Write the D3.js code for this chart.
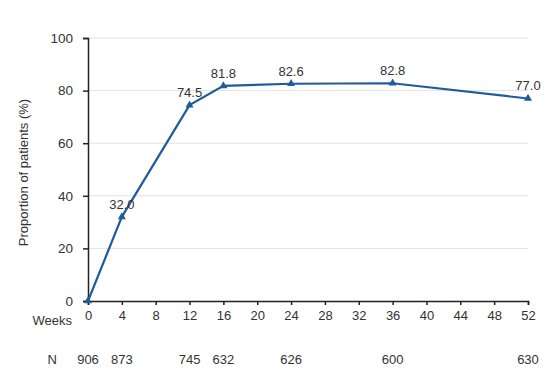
<!DOCTYPE html>
<html>
<head>
<meta charset="utf-8">
<script src="https://cdn.jsdelivr.net/npm/d3@7"></script>
<style>
  body { margin: 0; background: #fff; }
  text { font-family: "Liberation Sans", Arial, sans-serif; fill: #333; }
</style>
</head>
<body>
<div id="chart"></div>
<script>
const weeks = [0, 4, 12, 16, 24, 36, 52];
const proportion = [0, 32.0, 74.5, 81.8, 82.6, 82.8, 77.0];
const nPatients = [906, 873, 745, 632, 626, 600, 630];
const xTicks = d3.range(0, 53, 4);
const yTicks = [0, 20, 40, 60, 80, 100];

const W = 559, H = 384;
const margin = { top: 38, right: 31, bottom: 83, left: 88 };
const width = W - margin.left - margin.right;
const height = H - margin.top - margin.bottom;

const svg = d3.select("#chart").append("svg")
  .attr("width", W).attr("height", H)
  .append("g")
  .attr("transform", `translate(${margin.left},${margin.top})`);

const x = d3.scaleLinear().domain([0, 52]).range([0, width]);
const y = d3.scaleLinear().domain([0, 100]).range([height, 0]);

// gridlines
svg.append("g")
  .selectAll("line")
  .data(yTicks.filter(d => d > 0))
  .enter().append("line")
  .attr("x1", 0).attr("x2", width)
  .attr("y1", d => y(d)).attr("y2", d => y(d))
  .attr("stroke", "#e2e2e2").attr("stroke-width", 1);

// Y axis
const yAxis = svg.append("g")
  .call(d3.axisLeft(y).tickValues(yTicks).tickSize(5).tickPadding(10));
yAxis.select(".domain").attr("stroke", "#222").attr("stroke-width", 1.5);
yAxis.selectAll(".tick line").attr("stroke", "#222").attr("stroke-width", 1.5);
yAxis.selectAll("text").attr("font-size", 13.5).style("fill", "#333");

// X axis
const xAxis = svg.append("g")
  .attr("transform", `translate(0,${height})`)
  .call(d3.axisBottom(x).tickValues(xTicks).tickSizeOuter(0).tickSize(4).tickPadding(6));
xAxis.select(".domain").attr("stroke", "#222").attr("stroke-width", 1.5);
xAxis.selectAll(".tick line").attr("stroke", "#222").attr("stroke-width", 1.5);
xAxis.selectAll("text").attr("font-size", 13).style("fill", "#333");

svg.append("text")
  .attr("x", -16).attr("y", height + 24)
  .attr("text-anchor", "end")
  .attr("font-size", 13)
  .text("Weeks");

// N row
svg.append("text")
  .attr("x", -31).attr("y", height + 63)
  .attr("text-anchor", "end")
  .attr("font-size", 13)
  .text("N");

svg.append("g")
  .selectAll("text")
  .data(weeks)
  .enter().append("text")
  .attr("x", d => x(d))
  .attr("y", height + 63)
  .attr("text-anchor", "middle")
  .attr("font-size", 13)
  .text((d, i) => nPatients[i]);

// Y axis label
svg.append("text")
  .attr("transform", "rotate(-90)")
  .attr("x", -height / 2 - 3)
  .attr("y", -60)
  .attr("text-anchor", "middle")
  .attr("font-size", 13)
  .text("Proportion of patients (%)");

const pts = weeks.map((w, i) => ({ w, v: proportion[i] }));

svg.append("path")
  .datum(pts)
  .attr("d", d3.line().x(d => x(d.w)).y(d => y(d.v)))
  .attr("fill", "none")
  .attr("stroke", "#1f5c99")
  .attr("stroke-width", 2.2);

svg.append("g")
  .selectAll("path")
  .data(pts)
  .enter().append("path")
  .attr("d", d3.symbol().type(d3.symbolTriangle).size(28))
  .attr("transform", d => `translate(${x(d.w)},${y(d.v)})`)
  .attr("fill", "#1f5c99");

svg.append("g")
  .selectAll("text")
  .data(pts.filter(d => d.w > 0))
  .enter().append("text")
  .attr("x", d => x(d.w))
  .attr("y", d => y(d.v) - 8)
  .attr("text-anchor", "middle")
  .attr("font-size", 13)
  .text(d => d.v.toFixed(1));
</script>
</body>
</html>
